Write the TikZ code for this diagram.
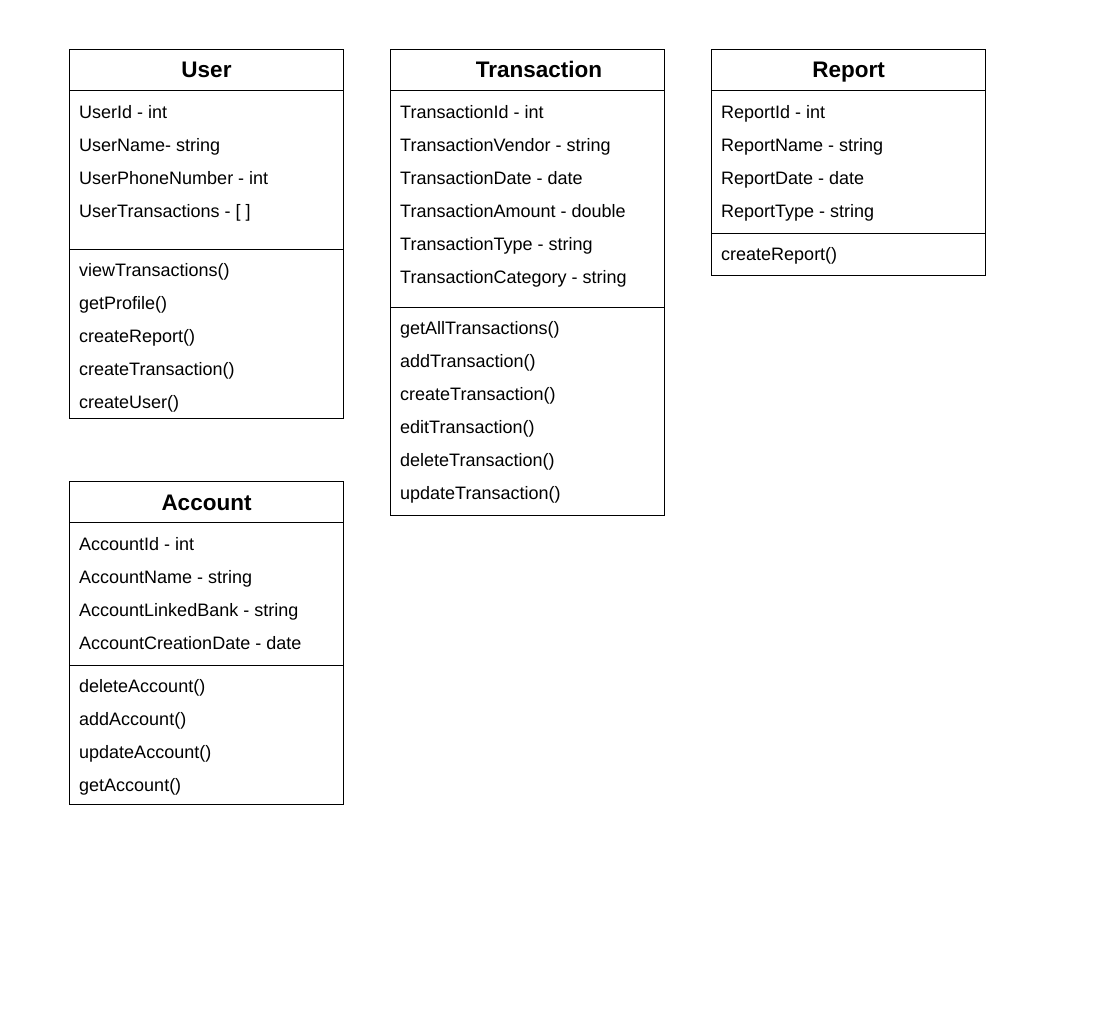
\documentclass[tikz,border=0pt]{standalone}
\usepackage{fontspec}
\setmainfont{Liberation Sans}
\begin{document}
\begin{tikzpicture}[x=1pt,y=-1pt,
  boxline/.style={draw=black,line width=1pt},
  title/.style={font=\bfseries\fontsize{22.5}{26}\selectfont,anchor=center,inner sep=0pt,text height=16pt,text depth=0pt},
  item/.style={font=\fontsize{18}{21}\selectfont,anchor=west,inner sep=0pt,text height=13pt,text depth=0pt}]
\useasboundingbox (0,0) rectangle (1098,1024);
% User
\draw[boxline] (69.5,49.5) rectangle (343.5,418.5);
\draw[boxline] (69.5,90.5) -- (343.5,90.5);
\draw[boxline] (69.5,249.5) -- (343.5,249.5);
\node[title] (userT) at (206.5,70) {User};
\node[item] (u1) at (79,112) {UserId - int};
\node[item] (u2) at (79,145) {UserName- string};
\node[item] (u3) at (79,178) {UserPhoneNumber - int};
\node[item] (u4) at (79,211) {UserTransactions - [ ]};
\node[item] (u5) at (79,270) {viewTransactions()};
\node[item] (u6) at (79,303) {getProfile()};
\node[item] (u7) at (79,336) {createReport()};
\node[item] (u8) at (79,369) {createTransaction()};
\node[item] (u9) at (79,402) {createUser()};
% Transaction
\draw[boxline] (390.5,49.5) rectangle (664.5,515.5);
\draw[boxline] (390.5,90.5) -- (664.5,90.5);
\draw[boxline] (390.5,307.5) -- (664.5,307.5);
\node[title] (trT) at (539,70) {Transaction};
\node[item] (t1) at (400,112) {TransactionId - int};
\node[item] (t2) at (400,145) {TransactionVendor - string};
\node[item] (t3) at (400,178) {TransactionDate - date};
\node[item] (t4) at (400,211) {TransactionAmount - double};
\node[item] (t5) at (400,244) {TransactionType - string};
\node[item] (t6) at (400,277) {TransactionCategory - string};
\node[item] (t7) at (400,328) {getAllTransactions()};
\node[item] (t8) at (400,361) {addTransaction()};
\node[item] (t9) at (400,394) {createTransaction()};
\node[item] (t10) at (400,427) {editTransaction()};
\node[item] (t11) at (400,460) {deleteTransaction()};
\node[item] (t12) at (400,493) {updateTransaction()};
% Report
\draw[boxline] (711.5,49.5) rectangle (985.5,275.5);
\draw[boxline] (711.5,90.5) -- (985.5,90.5);
\draw[boxline] (711.5,233.5) -- (985.5,233.5);
\node[title] (repT) at (848.5,70) {Report};
\node[item] (r1) at (721,112) {ReportId - int};
\node[item] (r2) at (721,145) {ReportName - string};
\node[item] (r3) at (721,178) {ReportDate - date};
\node[item] (r4) at (721,211) {ReportType - string};
\node[item] (r5) at (721,254) {createReport()};
% Account
\draw[boxline] (69.5,481.5) rectangle (343.5,804.5);
\draw[boxline] (69.5,522.5) -- (343.5,522.5);
\draw[boxline] (69.5,665.5) -- (343.5,665.5);
\node[title] (accT) at (206.5,502) {Account};
\node[item] (a1) at (79,544) {AccountId - int};
\node[item] (a2) at (79,577) {AccountName - string};
\node[item] (a3) at (79,610) {AccountLinkedBank - string};
\node[item] (a4) at (79,643) {AccountCreationDate - date};
\node[item] (a5) at (79,686) {deleteAccount()};
\node[item] (a6) at (79,719) {addAccount()};
\node[item] (a7) at (79,752) {updateAccount()};
\node[item] (a8) at (79,785) {getAccount()};
\end{tikzpicture}
\end{document}
